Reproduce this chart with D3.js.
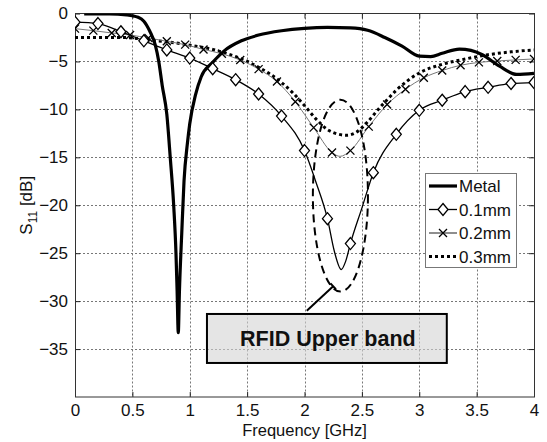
<!DOCTYPE html>
<html><head><meta charset="utf-8">
<script src="https://cdn.jsdelivr.net/npm/d3@7"></script>
<style>
html,body{margin:0;padding:0;background:#fff;}
svg{display:block;font-family:Arial,"Liberation Sans",sans-serif;}
</style></head><body>
<svg id="chart" width="547" height="442"></svg>
<script>
// Axis ticks
const xTicks = [0, 0.5, 1, 1.5, 2, 2.5, 3, 3.5, 4];          // GHz
const yTicks = [0, -5, -10, -15, -20, -25, -30, -35];        // dB

// Metal (thick solid)
const metalF = [0.08, 0.3, 0.45, 0.55, 0.6, 0.65, 0.7, 0.73, 0.76, 0.8, 0.83, 0.86, 0.88, 0.89, 0.9,
                0.91, 0.93, 0.95, 0.98, 1.0, 1.05, 1.1, 1.2, 1.3, 1.45, 1.6, 1.8, 2.0, 2.2, 2.4, 2.55,
                2.7, 2.85, 3.0, 3.1, 3.2, 3.35, 3.45, 3.55, 3.7, 3.85, 4.0];
const metalS = [-0.05, -0.05, -0.15, -0.4, -0.8, -1.8, -3.3, -5.0, -7.5, -10.5, -15, -20, -25, -29, -33.3,
                -29, -23, -17.5, -13.5, -11.5, -8.5, -6.6, -5.1, -3.9, -2.85, -2.25, -1.8, -1.55, -1.45, -1.5, -1.75,
                -2.5, -3.4, -4.45, -4.5, -4.15, -3.72, -3.85, -4.3, -5.5, -6.35, -6.25];

// 0.1 mm (diamond markers every 0.2 GHz)
const mm01F = [0, 0.2, 0.4, 0.6, 0.8, 1.0, 1.2, 1.4, 1.6, 1.8, 2.0, 2.1, 2.2, 2.26, 2.32, 2.36, 2.4, 2.5, 2.6,
               2.8, 3.0, 3.2, 3.4, 3.6, 3.8, 4.0];
const mm01S = [-0.9, -1.05, -1.9, -2.85, -3.8, -4.65, -5.75, -6.9, -8.4, -10.7, -14.3, -17.6, -21.4, -24.8, -26.7, -25.8, -24.0, -20.3, -16.6,
               -12.6, -10.1, -9.05, -8.15, -7.7, -7.3, -7.2];
const mm01Marks = [0, 0.2, 0.4, 0.6, 0.8, 1.0, 1.2, 1.4, 1.6, 1.8, 2.0, 2.2, 2.4, 2.6, 2.8, 3.0, 3.2, 3.4, 3.6, 3.8, 4.0];

// 0.2 mm (cross markers every 0.16 GHz)
const mm02F = [0, 0.16, 0.32, 0.48, 0.64, 0.8, 0.96, 1.12, 1.28, 1.44, 1.6, 1.76, 1.92, 2.08, 2.24, 2.31, 2.4,
               2.56, 2.72, 2.88, 3.04, 3.2, 3.36, 3.52, 3.68, 3.84, 4.0];
const mm02S = [-1.58, -1.79, -2.03, -2.25, -2.55, -2.9, -3.25, -3.75, -4.2, -4.85, -5.8, -7.1, -9.2, -11.9, -14.5, -14.9, -14.3,
               -11.8, -9.5, -7.9, -6.7, -5.95, -5.4, -5.1, -4.95, -4.84, -4.74];
const mm02Marks = [0, 0.16, 0.32, 0.48, 0.64, 0.8, 0.96, 1.12, 1.28, 1.44, 1.6, 1.76, 1.92, 2.08, 2.24, 2.4,
                   2.56, 2.72, 2.88, 3.04, 3.2, 3.36, 3.52, 3.68, 3.84, 4.0];

// 0.3 mm (thick dotted)
const mm03F = [0, 0.2, 0.4, 0.5, 0.6, 0.8, 1.0, 1.2, 1.4, 1.6, 1.8, 1.9, 2.0, 2.1, 2.2, 2.3, 2.37, 2.45, 2.55,
               2.65, 2.72, 2.8, 2.9, 3.0, 3.2, 3.4, 3.6, 3.8, 4.0];
const mm03S = [-2.5, -2.5, -2.5, -2.55, -2.7, -2.95, -3.3, -3.75, -4.5, -5.6, -7.2, -8.3, -9.6, -11.0, -12.1, -12.6, -12.7, -12.4, -11.3,
               -9.9, -9.0, -8.0, -7.0, -6.2, -5.3, -4.75, -4.3, -4.0, -3.8];

// Annotation: highlighted band (data units) and its label
const bandCenter = [2.313, -19.0];
const bandRadius = [0.24, 10.0];
const labelBox = [1.15, -31.34, 3.24, -36.45];   // f0, s0, f1, s1
const pointer = [2.02, -31.0, 2.25, -28.45];
const labelText = "RFID Upper band";

const svg = d3.select("#chart");
const x = d3.scaleLinear().domain([0, 4]).range([75, 534]);
const y = d3.scaleLinear().domain([-40, 0]).range([397, 13.5]);
const [x0, x1] = x.range();
const [y0, y1] = y.range();

svg.append("defs").append("clipPath").attr("id", "plotclip")
  .append("rect").attr("x", x0).attr("y", y1).attr("width", x1 - x0).attr("height", y0 - y1);

// Grid
const grid = svg.append("g").attr("stroke", "#777").attr("stroke-width", 1).attr("stroke-dasharray", "2,2");
xTicks.slice(1, -1).forEach(t => grid.append("line")
  .attr("x1", Math.round(x(t)) + 0.5).attr("x2", Math.round(x(t)) + 0.5).attr("y1", y1).attr("y2", y0));
yTicks.slice(1).forEach(t => grid.append("line")
  .attr("x1", x0).attr("x2", x1).attr("y1", Math.round(y(t)) + 0.5).attr("y2", Math.round(y(t)) + 0.5));

// Axes
const ax = d3.axisBottom(x).tickValues(xTicks).tickFormat(d3.format("")).tickSizeInner(-5).tickSizeOuter(0).tickPadding(7);
const ay = d3.axisLeft(y).tickValues(yTicks).tickFormat(d3.format("")).tickSizeInner(-5).tickSizeOuter(0).tickPadding(7);
const gx = svg.append("g").attr("transform", `translate(0,${y0})`).call(ax);
const gy = svg.append("g").attr("transform", `translate(${x0},0)`).call(ay);
svg.append("g").attr("transform", `translate(0,${y1})`).call(d3.axisTop(x).tickValues(xTicks).tickFormat("").tickSizeInner(-5).tickSizeOuter(0));
svg.append("g").attr("transform", `translate(${x1},0)`).call(d3.axisRight(y).tickValues(yTicks).tickFormat("").tickSizeInner(-5).tickSizeOuter(0));
svg.selectAll(".domain").remove();
svg.selectAll(".tick line").attr("stroke", "#222");
[gx, gy].forEach(g => g.selectAll("text").attr("font-size", 17).attr("fill", "#111").attr("font-family", "Arial, Liberation Sans, sans-serif"));

svg.append("rect").attr("x", x0 + 0.5).attr("y", y1).attr("width", x1 - x0).attr("height", y0 - y1)
  .attr("fill", "none").attr("stroke", "#333").attr("stroke-width", 1);

// Curves
const plot = svg.append("g").attr("clip-path", "url(#plotclip)");
const line = d3.line().x(d => x(d[0])).y(d => y(d[1])).curve(d3.curveMonotoneX);
const pts = (F, S) => F.map((f, i) => [f, S[i]]);

const metal = pts(metalF, metalS), p01 = pts(mm01F, mm01S), p02 = pts(mm02F, mm02S), p03 = pts(mm03F, mm03S);

plot.append("path").datum(p03).attr("d", line).attr("fill", "none")
  .attr("stroke", "#000").attr("stroke-width", 3).attr("stroke-dasharray", "3,3");
plot.append("path").datum(p02).attr("d", line).attr("fill", "none")
  .attr("stroke", "#777").attr("stroke-width", 1);
plot.append("path").datum(p01).attr("d", line).attr("fill", "none")
  .attr("stroke", "#000").attr("stroke-width", 1.3);
plot.append("path").datum(metal).attr("d", line).attr("fill", "none")
  .attr("stroke", "#000").attr("stroke-width", 3.2).attr("stroke-linejoin", "round");

const diamond = (cx, cy) => `M${cx},${cy - 6}L${cx + 5},${cy}L${cx},${cy + 6}L${cx - 5},${cy}Z`;
const cross = (cx, cy) => `M${cx - 4},${cy - 4}L${cx + 4},${cy + 4}M${cx - 4},${cy + 4}L${cx + 4},${cy - 4}`;

plot.append("g").selectAll("path").data(p02.filter(d => mm02Marks.includes(d[0]))).join("path")
  .attr("d", d => cross(x(d[0]), y(d[1]))).attr("stroke", "#000").attr("stroke-width", 1.3).attr("fill", "none");
plot.append("g").selectAll("path").data(p01.filter(d => mm01Marks.includes(d[0]))).join("path")
  .attr("d", d => diamond(x(d[0]), y(d[1]))).attr("stroke", "#000").attr("stroke-width", 1.3).attr("fill", "#fff");

// Highlighted band
svg.append("ellipse")
  .attr("cx", x(bandCenter[0])).attr("cy", y(bandCenter[1]))
  .attr("rx", x(bandCenter[0] + bandRadius[0]) - x(bandCenter[0]))
  .attr("ry", y(bandCenter[1]) - y(bandCenter[1] + bandRadius[1]))
  .attr("fill", "none").attr("stroke", "#000").attr("stroke-width", 2).attr("stroke-dasharray", "8,5");

// Label box with pointer
const bx = x(labelBox[0]), by = y(labelBox[1]), bw = x(labelBox[2]) - bx, bh = y(labelBox[3]) - by;
svg.append("rect").attr("x", bx).attr("y", by).attr("width", bw).attr("height", bh)
  .attr("fill", "#d4d4d4").attr("fill-opacity", 0.6).attr("stroke", "#000").attr("stroke-width", 2);
svg.append("text").attr("x", bx + bw / 2 + 1).attr("y", by + bh / 2 + 7.5).attr("text-anchor", "middle")
  .attr("font-size", 21.5).attr("font-weight", "bold").attr("fill", "#111").text(labelText);
const px0 = x(pointer[0]), py0 = y(pointer[1]), px1 = x(pointer[2]), py1 = y(pointer[3]);
svg.append("line").attr("x1", px0).attr("y1", py0).attr("x2", px1).attr("y2", py1)
  .attr("stroke", "#000").attr("stroke-width", 2);
{
  const dx = px1 - px0, dy = py1 - py0, L = Math.hypot(dx, dy), nx = -dy / L * 4, ny = dx / L * 4;
  svg.append("line").attr("x1", px1 - nx).attr("y1", py1 - ny).attr("x2", px1 + nx).attr("y2", py1 + ny)
    .attr("stroke", "#000").attr("stroke-width", 2);
}

// Axis titles
svg.append("text").attr("x", (x0 + x1) / 2).attr("y", 435.5).attr("text-anchor", "middle")
  .attr("font-size", 16.5).attr("fill", "#111").text("Frequency [GHz]");
const yl = svg.append("text").attr("transform", `translate(32,${(y0 + y1) / 2}) rotate(-90)`)
  .attr("text-anchor", "middle").attr("font-size", 17).attr("fill", "#111");
yl.append("tspan").text("S");
yl.append("tspan").attr("font-size", 12).attr("dy", 5).text("11");
yl.append("tspan").attr("dy", -5).text(" [dB]");

// Legend
const lg = svg.append("g");
lg.append("rect").attr("x", 425.5).attr("y", 173.5).attr("width", 91).attr("height", 94)
  .attr("fill", "#fff").attr("stroke", "#777").attr("stroke-width", 1);
const rows = [186, 209.5, 233, 256.5];
const lx0 = 429, lx1 = 457, lxm = (lx0 + lx1) / 2;
lg.append("line").attr("x1", lx0).attr("x2", lx1).attr("y1", rows[0]).attr("y2", rows[0]).attr("stroke", "#000").attr("stroke-width", 3.2);
lg.append("line").attr("x1", lx0).attr("x2", lx1).attr("y1", rows[1]).attr("y2", rows[1]).attr("stroke", "#000").attr("stroke-width", 1.3);
lg.append("path").attr("d", diamond(lxm, rows[1])).attr("stroke", "#000").attr("stroke-width", 1.3).attr("fill", "#fff");
lg.append("line").attr("x1", lx0).attr("x2", lx1).attr("y1", rows[2]).attr("y2", rows[2]).attr("stroke", "#444").attr("stroke-width", 1.2);
lg.append("path").attr("d", cross(lxm, rows[2])).attr("stroke", "#000").attr("stroke-width", 1.3);
lg.append("line").attr("x1", lx0).attr("x2", lx1).attr("y1", rows[3]).attr("y2", rows[3]).attr("stroke", "#000").attr("stroke-width", 3).attr("stroke-dasharray", "3,3");
lg.selectAll("text.lab").data(["Metal", "0.1mm", "0.2mm", "0.3mm"]).join("text").attr("class", "lab")
  .attr("x", 459).attr("y", (d, i) => rows[i] + 6).attr("font-size", 17).attr("fill", "#111").text(d => d);
</script>
</body></html>
